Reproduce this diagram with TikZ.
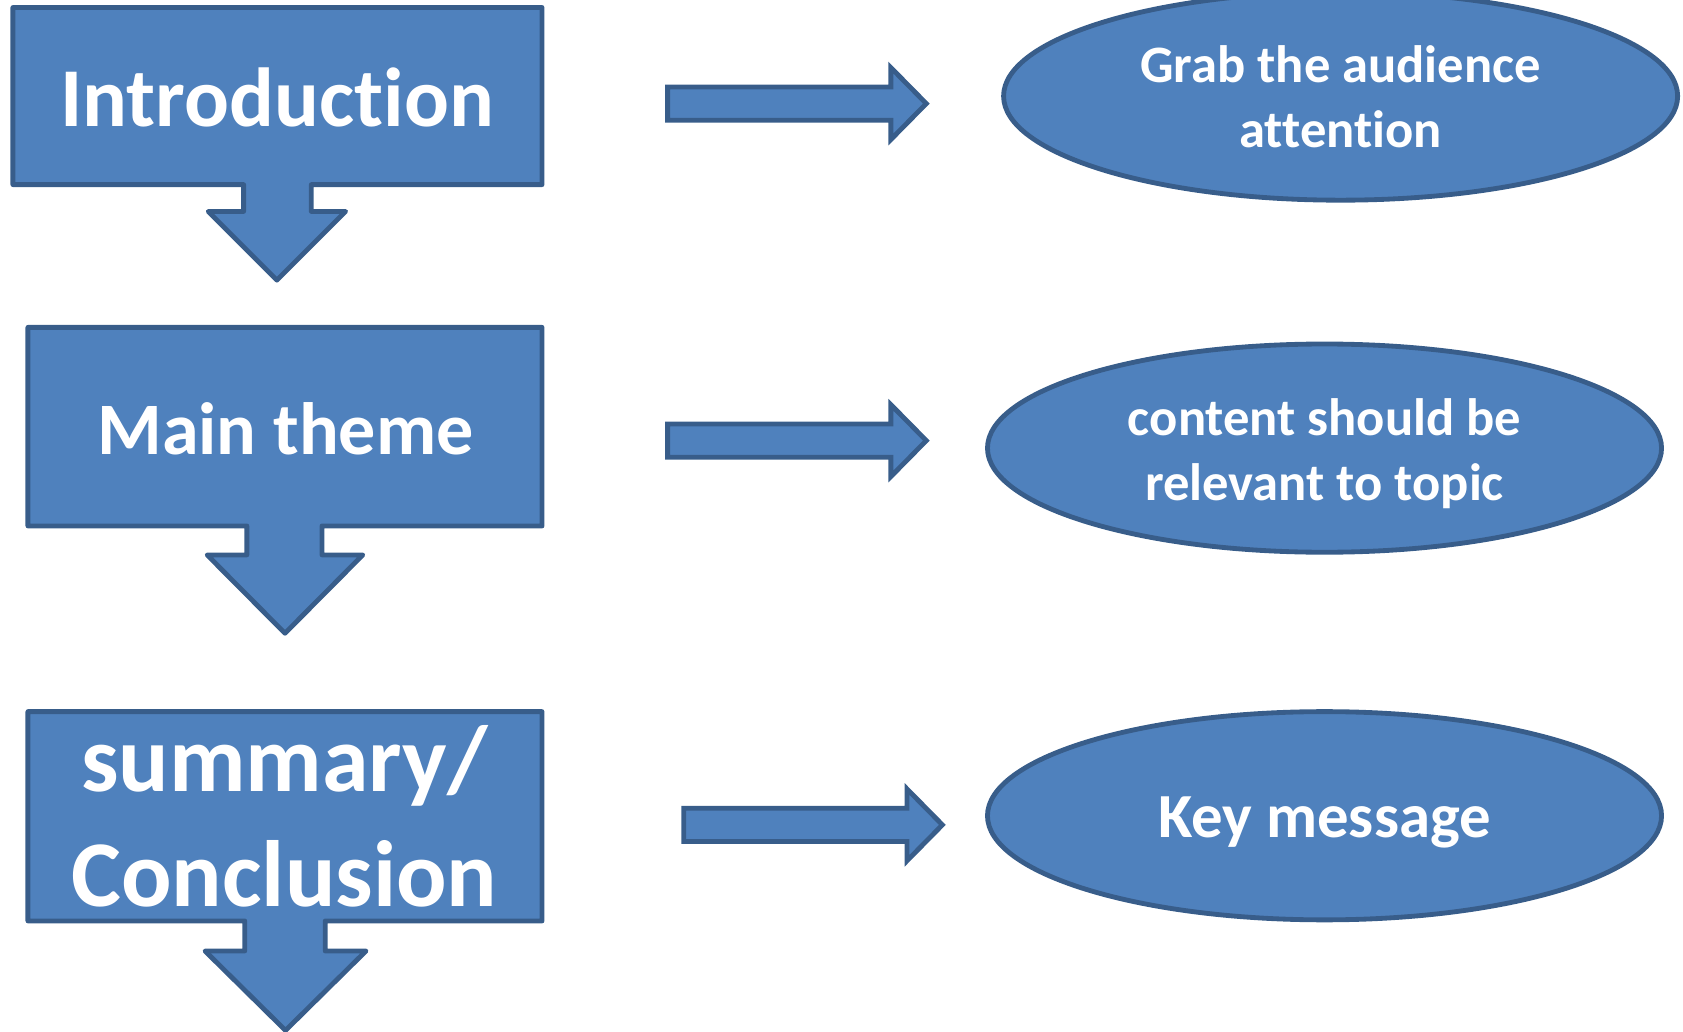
\documentclass[tikz,border=0pt]{standalone}
\usepackage{fontspec}
\setmainfont{Carlito}[Ligatures=NoCommon]
\usetikzlibrary{shapes.geometric}
\definecolor{boxblue}{HTML}{4F81BD}
\definecolor{edgeblue}{HTML}{385D8A}

\begin{document}
\begin{tikzpicture}[x=1pt, y=-1pt,
  block/.style={fill=boxblue, draw=edgeblue, line width=4.5pt, line join=round},
  oval/.style={ellipse, fill=boxblue, draw=edgeblue, line width=4.5pt,
    minimum width=628pt, minimum height=194pt, inner sep=0pt},
  lbl/.style={text=white, align=center, inner sep=0pt}]
\useasboundingbox (0,0) rectangle (1568,960.6);

% Boxes with down arrows
\draw[block] (12,7) -- (505,7) -- (505,172) -- (290,172) -- (290,197) -- (322,197)
  -- (258,261) -- (194,197) -- (227,197) -- (227,172) -- (12,172) -- cycle;
\draw[block] (26,305) -- (505,305) -- (505,490) -- (300,490) -- (300,517) -- (338,517)
  -- (265.5,590) -- (193,517) -- (230,517) -- (230,490) -- (26,490) -- cycle;
\draw[block] (26,663) -- (505,663) -- (505,858) -- (303,858) -- (303,886) -- (341,886)
  -- (266,960) -- (191,886) -- (228,886) -- (228,858) -- (26,858) -- cycle;

% Right arrows
\foreach \x/\y in {622/96.5, 622/410.5, 637/768.5}
  \draw[block, line join=miter] (\x,\y) ++(0,-15.5) -- ++(208,0) -- ++(0,-18) -- ++(33,33.5)
    -- ++(-33,33.5) -- ++(0,-18) -- ++(-208,0) -- cycle;

% Ellipses
\node[oval] (grab) at (1249,89.5) {};
\node[oval] (content) at (1234,417.5) {};
\node[oval] (key) at (1234,760) {};

% Labels
\node[lbl, font=\bfseries\fontsize{78}{95}\selectfont, anchor=base] (intro) at (258,118) {Introduction};
\node[lbl, font=\bfseries\fontsize{69}{84}\selectfont, anchor=base] (main) at (266,423) {Main theme};
\node[lbl, font=\bfseries\fontsize{87.7}{107}\selectfont] (concl) at (265,760.5) {summary/\\Conclusion};
\node[lbl, font=\bfseries\fontsize{49}{60}\selectfont] (grabtxt) at (1249,90) {Grab the audience\\attention};
\node[lbl, font=\bfseries\fontsize{49}{60}\selectfont] (contenttxt) at (1234,422.8) {content should be\\relevant to topic};
\node[lbl, font=\bfseries\fontsize{58.5}{71}\selectfont, anchor=base] (keytxt) at (1234,780) {Key message};
\end{tikzpicture}
\end{document}
